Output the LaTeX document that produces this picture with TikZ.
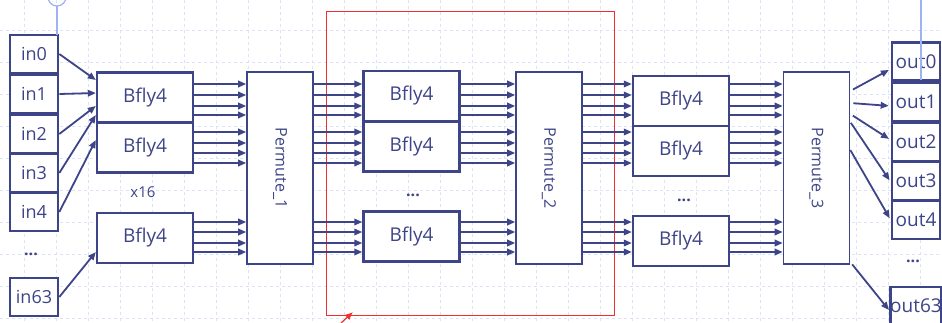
\documentclass[tikz,border=0pt]{standalone}
\usepackage{fontspec}
\setmainfont{Open Sans}
\usepackage{graphicx}
\usetikzlibrary{arrows.meta}
\definecolor{navy}{HTML}{3E4488}
\definecolor{gridblue}{HTML}{DCE3F7}
\definecolor{guideblue}{HTML}{9DB3F5}
\definecolor{selred}{HTML}{F03030}

\begin{document}
\begin{tikzpicture}[x=1pt,y=-1pt,
  port/.style={draw=navy,fill=white,line width=2.6pt,text=navy,minimum width=48pt,minimum height=38pt,inner sep=0pt,font=\fontsize{18}{18}\selectfont},
  bfly/.style={draw=navy,fill=white,line width=2.4pt,text=navy,minimum width=96pt,minimum height=50pt,inner sep=0pt,font=\fontsize{19}{19}\selectfont},
  perm/.style={draw=navy,fill=white,line width=1.6pt,text=navy,minimum width=66pt,minimum height=192pt,inner sep=0pt,font=\fontsize{16}{16}\selectfont},
  wire/.style={navy,line width=1.8pt,-{Triangle[length=8pt,width=6.5pt]}},
  dots/.style={text=navy,font=\fontsize{16}{16}\selectfont\bfseries},
  gridln/.style={gridblue,dashed,line width=0.8pt}]
\useasboundingbox (0,0) rectangle (942,322);
\fill[white] (0,0) rectangle (942,322);
% grid
\foreach \x in {24,56,...,920} \draw[gridln] (\x,0) -- (\x,322);
\foreach \y in {30,62,...,318} \draw[gridln] (0,\y) -- (942,\y);

% selection
\draw[selred,line width=1pt] (326,11) rectangle (614,315);
\draw[selred,line width=1.2pt,-{Latex[length=8pt,width=7pt]}] (341,323) -- (353,312);

% inputs
\node[port] (in0) at (34,54) {in0};
\node[port] (in1) at (34,94) {in1};
\node[port] (in2) at (34,134) {in2};
\node[port] (in3) at (34,173) {in3};
\node[port] (in4) at (34,212) {in4};
\node[dots] (indots) at (31,254) {...};
\node[port] (in63) at (34,297) {in63};

% stage 1
\node[bfly] (b1a) at (145,97.5) {Bfly4};
\node[bfly] (b1b) at (145,147.5) {Bfly4};
\node[text=navy,font=\fontsize{15}{15}\selectfont] (rep) at (143,192) {x16};
\node[bfly] (b1c) at (145,238) {Bfly4};
\node[perm] (p1) at (280,168) {\raisebox{4pt}{\rotatebox{-90}{Permute\_1}}};

% stage 2
\node[bfly] (b2a) at (411.5,96) {Bfly4};
\node[bfly] (b2b) at (411.5,146.5) {Bfly4};
\node[dots] (dots2) at (413,195) {...};
\node[bfly] (b2c) at (411.5,236.5) {Bfly4};
\node[perm] (p2) at (549,168) {\raisebox{4pt}{\rotatebox{-90}{Permute\_2}}};

% stage 3
\node[bfly] (b3a) at (681,101) {Bfly4};
\node[bfly] (b3b) at (681,151) {Bfly4};
\node[dots] (dots3) at (684,200) {...};
\node[bfly] (b3c) at (681,241) {Bfly4};
\node[perm] (p3) at (816.5,168) {\raisebox{4pt}{\rotatebox{-90}{Permute\_3}}};

% outputs
\node[port,font=\fontsize{19}{19}\selectfont] (out0) at (916,61.5) {out0};
\node[port,font=\fontsize{19}{19}\selectfont] (out1) at (916,102) {out1};
\node[port,font=\fontsize{19}{19}\selectfont] (out2) at (916,142) {out2};
\node[port,font=\fontsize{19}{19}\selectfont] (out3) at (916,181) {out3};
\node[port,font=\fontsize{19}{19}\selectfont] (out4) at (916,220) {out4};
\node[dots] (outdots) at (913,261) {...};
\node[port,font=\fontsize{19}{19}\selectfont] (out63) at (916,306) {out63};

% into the butterflies
\draw[wire] (in0.east) -- (b1a.west |- 0,80);
\draw[wire] (in1.east) -- (b1a.west |- 0,93);
\draw[wire] (in2.east) -- (b1a.west |- 0,106);
\draw[wire] (in3.east) -- (b1a.west |- 0,115);
\draw[wire] (in4.east) -- (b1b.west |- 0,140);
\draw[wire] (in63.east) -- (b1c.west |- 0,252);

% 4 lanes per butterfly
\foreach \y in {84,95,106,115,132,143,153,163,222,232,243,252} {
  \draw[wire] (b1a.east |- 0,\y) -- (p1.west |- 0,\y);
  \draw[wire] (p1.east |- 0,\y) -- (b2a.west |- 0,\y);
  \draw[wire] (b2a.east |- 0,\y) -- (p2.west |- 0,\y);
  \draw[wire] (p2.east |- 0,\y) -- (b3a.west |- 0,\y);
  \draw[wire] (b3a.east |- 0,\y) -- (p3.west |- 0,\y);
}

% out of the last permute
\draw[wire,shorten <=3pt,shorten >=2pt] (p3.east |- 0,91) -- (out0.west |- 0,69);
\draw[wire,shorten <=3pt,shorten >=2pt] (p3.east |- 0,103) -- (out1.west |- 0,106);
\draw[wire,shorten <=3pt,shorten >=2pt] (p3.east |- 0,114) -- (out2.west |- 0,140);
\draw[wire,shorten <=1pt,shorten >=2pt] (p3.east |- 0,122) -- (out3.west |- 0,182);
\draw[wire,shorten <=0pt,shorten >=2pt] (p3.east |- 0,150) -- (out4.west |- 0,220);
\draw[wire,shorten <=3pt,shorten >=0pt] (p3.east |- 0,262) -- (out63.west |- 0,310);

% guides
\draw[guideblue,line width=1.2pt] (57,6) -- (57,35);
\draw[guideblue,line width=1.2pt] (57,-3) circle (9pt);
\draw[guideblue,line width=1.2pt] (921,0) -- (921,80);
\end{tikzpicture}
\end{document}
